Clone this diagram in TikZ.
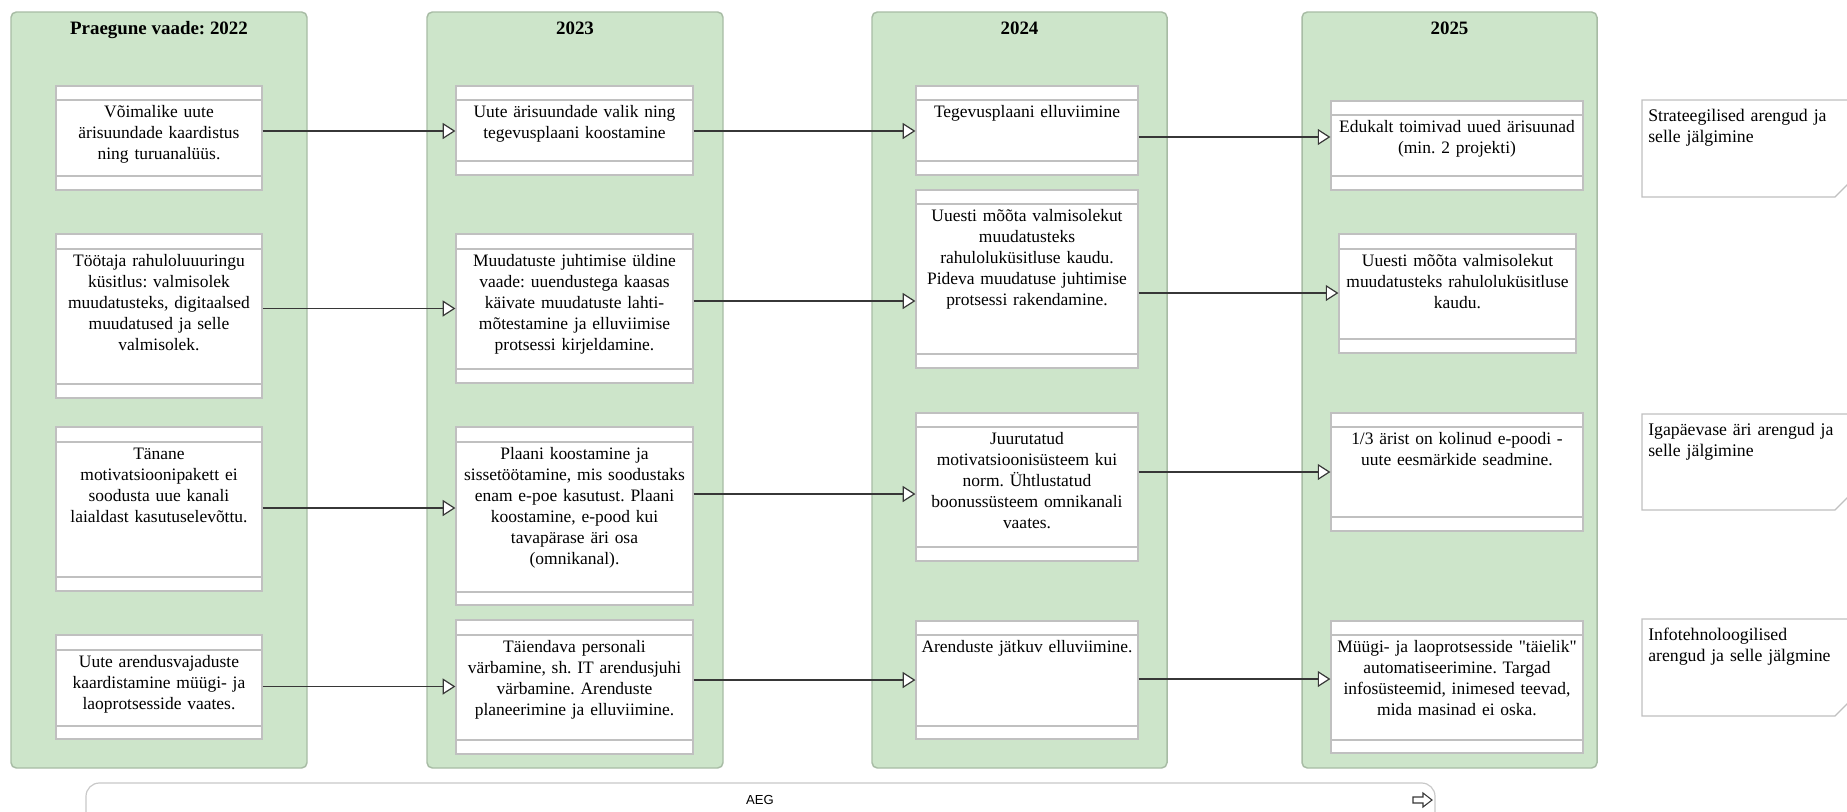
\documentclass[tikz,border=0pt]{standalone}
\usepackage{fontspec}
\setmainfont{Liberation Serif}
\newfontfamily\aegfont{Liberation Sans}
\usetikzlibrary{arrows.meta,fit}
\frenchspacing

\definecolor{panelfill}{RGB}{205,229,202}
\definecolor{panelline}{RGB}{168,188,165}
\definecolor{boxline}{RGB}{192,192,192}
\definecolor{connline}{RGB}{55,55,55}
\definecolor{timeline}{RGB}{200,200,200}

\tikzset{
  panel/.style={draw=panelline, line width=1.1pt, fill=panelfill, rounded corners=4pt, inner sep=0pt},
  paneltitle/.style={font=\fontsize{14.2pt}{17pt}\selectfont\bfseries, anchor=base, inner sep=0pt},
  itembox/.style={draw=boxline, line width=0.9pt, fill=white, inner sep=0pt},
  sepline/.style={draw=boxline, line width=0.9pt},
  itemtext/.style={font=\fontsize{13.1pt}{15.75pt}\selectfont, align=center, text width=240pt, anchor=base, inner sep=0pt},
  notebox/.style={draw=boxline, line width=0.9pt, fill=white},
  notetext/.style={font=\fontsize{13.3pt}{15.75pt}\selectfont, align=left, text width=150pt, anchor=base west, inner sep=0pt},
  conn/.style={draw=connline, line width=0.9pt, -{Triangle[length=9.5pt, width=12pt, fill=white]}},
  timebar/.style={draw=timeline, line width=0.9pt, rounded corners=10pt, inner sep=0pt},
  aegtext/.style={font=\aegfont\fontsize{9.8pt}{11pt}\selectfont, inner sep=0pt},
  timearrow/.style={draw=connline, line width=0.8pt, fill=white, line join=miter}
}

% item box: name, x1, x2, y1, y2, upper band line, lower band line, text
\newcommand\itemcard[8]{%
  \node[itembox, fit={(#2,#4) (#3,#5)}] (#1) {};
  \draw[sepline] (#2,#6) -- (#3,#6) (#2,#7) -- (#3,#7);
  \node[itemtext] (#1t) at ({(#2+#3)/2},{#6+17}) {#8};
}

% side note with a folded lower right corner: name, top, bottom, text
\newcommand\sidenote[4]{%
  \coordinate (#1) at (1642,#2);
  \draw[notebox] (1850,#2) -- (1642,#2) -- (1642,#3) -- (1835,#3) -- (1850,{#3-15});
  \node[notetext] (#1t) at (1648,{#2+21}) {#4};
}

\begin{document}
\begin{tikzpicture}[x=0.75pt, y=-0.75pt]
\useasboundingbox (0,0) rectangle (1847,811);
\clip (0,0) rectangle (1847,811);

% year columns
\node[panel, fit={(11,12) (307,768)}] (p1) {};
\node[panel, fit={(427,12) (723,768)}] (p2) {};
\node[panel, fit={(872,12) (1167,768)}] (p3) {};
\node[panel, fit={(1302,12) (1597,768)}] (p4) {};
\node[paneltitle] (p1t) at (159,34) {Praegune vaade: 2022};
\node[paneltitle] (p2t) at (575,34) {2023};
\node[paneltitle] (p3t) at (1019.5,34) {2024};
\node[paneltitle] (p4t) at (1449.5,34) {2025};

% 2022
\itemcard{a1}{56}{262}{86}{190}{100}{176}{Võimalike uute\\ärisuundade kaardistus\\ning turuanalüüs.}
\itemcard{a2}{56}{262}{234}{398}{249}{384}{Töötaja rahuloluuuringu\\küsitlus: valmisolek\\muudatusteks, digitaalsed\\muudatused ja selle\\valmisolek.}
\itemcard{a3}{56}{262}{427}{591}{442}{577}{Tänane\\motivatsioonipakett ei\\soodusta uue kanali\\laialdast kasutuselevõttu.}
\itemcard{a4}{56}{262}{635}{739}{650}{726}{Uute arendusvajaduste\\kaardistamine müügi- ja\\laoprotsesside vaates.}

% 2023
\itemcard{b1}{456}{693}{86}{175}{100}{161}{Uute ärisuundade valik ning\\tegevusplaani koostamine}
\itemcard{b2}{456}{693}{234}{383}{249}{369}{Muudatuste juhtimise üldine\\vaade: uuendustega kaasas\\käivate muudatuste lahti-\\mõtestamine ja elluviimise\\protsessi kirjeldamine.}
\itemcard{b3}{456}{693}{427}{605}{442}{592}{Plaani koostamine ja\\sissetöötamine, mis soodustaks\\enam e-poe kasutust. Plaani\\koostamine, e-pood kui\\tavapärase äri osa\\(omnikanal).}
\itemcard{b4}{456}{693}{620}{754}{635}{740}{Täiendava personali\\värbamine, sh. IT arendusjuhi\\värbamine. Arenduste\\planeerimine ja elluviimine.}

% 2024
\itemcard{c1}{916}{1138}{86}{175}{100}{161}{Tegevusplaani elluviimine}
\itemcard{c2}{916}{1138}{190}{368}{204}{354}{Uuesti mõõta valmisolekut\\muudatusteks\\rahuloluküsitluse kaudu.\\Pideva muudatuse juhtimise\\protsessi rakendamine.}
\itemcard{c3}{916}{1138}{413}{561}{427}{547}{Juurutatud\\motivatsioonisüsteem kui\\norm. Ühtlustatud\\boonussüsteem omnikanali\\vaates.}
\itemcard{c4}{916}{1138}{621}{739}{635}{726}{Arenduste jätkuv elluviimine.}

% 2025
\itemcard{d1}{1331}{1583}{101}{190}{115}{176}{Edukalt toimivad uued ärisuunad\\(min. 2 projekti)}
\itemcard{d2}{1339}{1576}{234}{353}{249}{339}{Uuesti mõõta valmisolekut\\muudatusteks rahuloluküsitluse\\kaudu.}
\itemcard{d3}{1331}{1583}{413}{531}{427}{517}{1/3 ärist on kolinud e-poodi -\hspace*{25pt}\\uute eesmärkide seadmine.}
\itemcard{d4}{1331}{1583}{621}{753}{635}{740}{Müügi- ja laoprotsesside \textquotedbl täielik\textquotedbl\\automatiseerimine. Targad\\infosüsteemid, inimesed teevad,\\mida masinad ei oska.}

% links between the years
\draw[conn] (a1.east |- 0,131) -- (b1.west |- 0,131);
\draw[conn] (a2.east |- 0,308.5) -- (b2.west |- 0,308.5);
\draw[conn] (a3.east |- 0,508) -- (b3.west |- 0,508);
\draw[conn] (a4.east |- 0,686.5) -- (b4.west |- 0,686.5);

\draw[conn] (b1.east |- 0,131) -- (c1.west |- 0,131);
\draw[conn] (b2.east |- 0,301) -- (c2.west |- 0,301);
\draw[conn] (b3.east |- 0,494) -- (c3.west |- 0,494);
\draw[conn] (b4.east |- 0,680) -- (c4.west |- 0,680);

\draw[conn] (c1.east |- 0,137) -- (d1.west |- 0,137);
\draw[conn] (c2.east |- 0,293) -- (d2.west |- 0,293);
\draw[conn] (c3.east |- 0,472) -- (d3.west |- 0,472);
\draw[conn] (c4.east |- 0,679) -- (d4.west |- 0,679);

% row notes
\sidenote{n1}{100}{197}{Strateegilised arengud ja\\selle jälgimine}
\sidenote{n2}{414}{510}{Igapäevase äri arengud ja\\selle jälgimine}
\sidenote{n3}{619}{716}{Infotehnoloogilised\\arengud ja selle jälgmine}

% time axis
\node[timebar, fit={(86,783) (1435,850)}] (aeg) {};
\node[aegtext] (aegt) at (760,800) {AEG};
\draw[timearrow] (1413,797) -- (1423,797) -- (1423,793) -- (1432,800) -- (1423,807) -- (1423,803) -- (1413,803) -- cycle;
\end{tikzpicture}
\end{document}
